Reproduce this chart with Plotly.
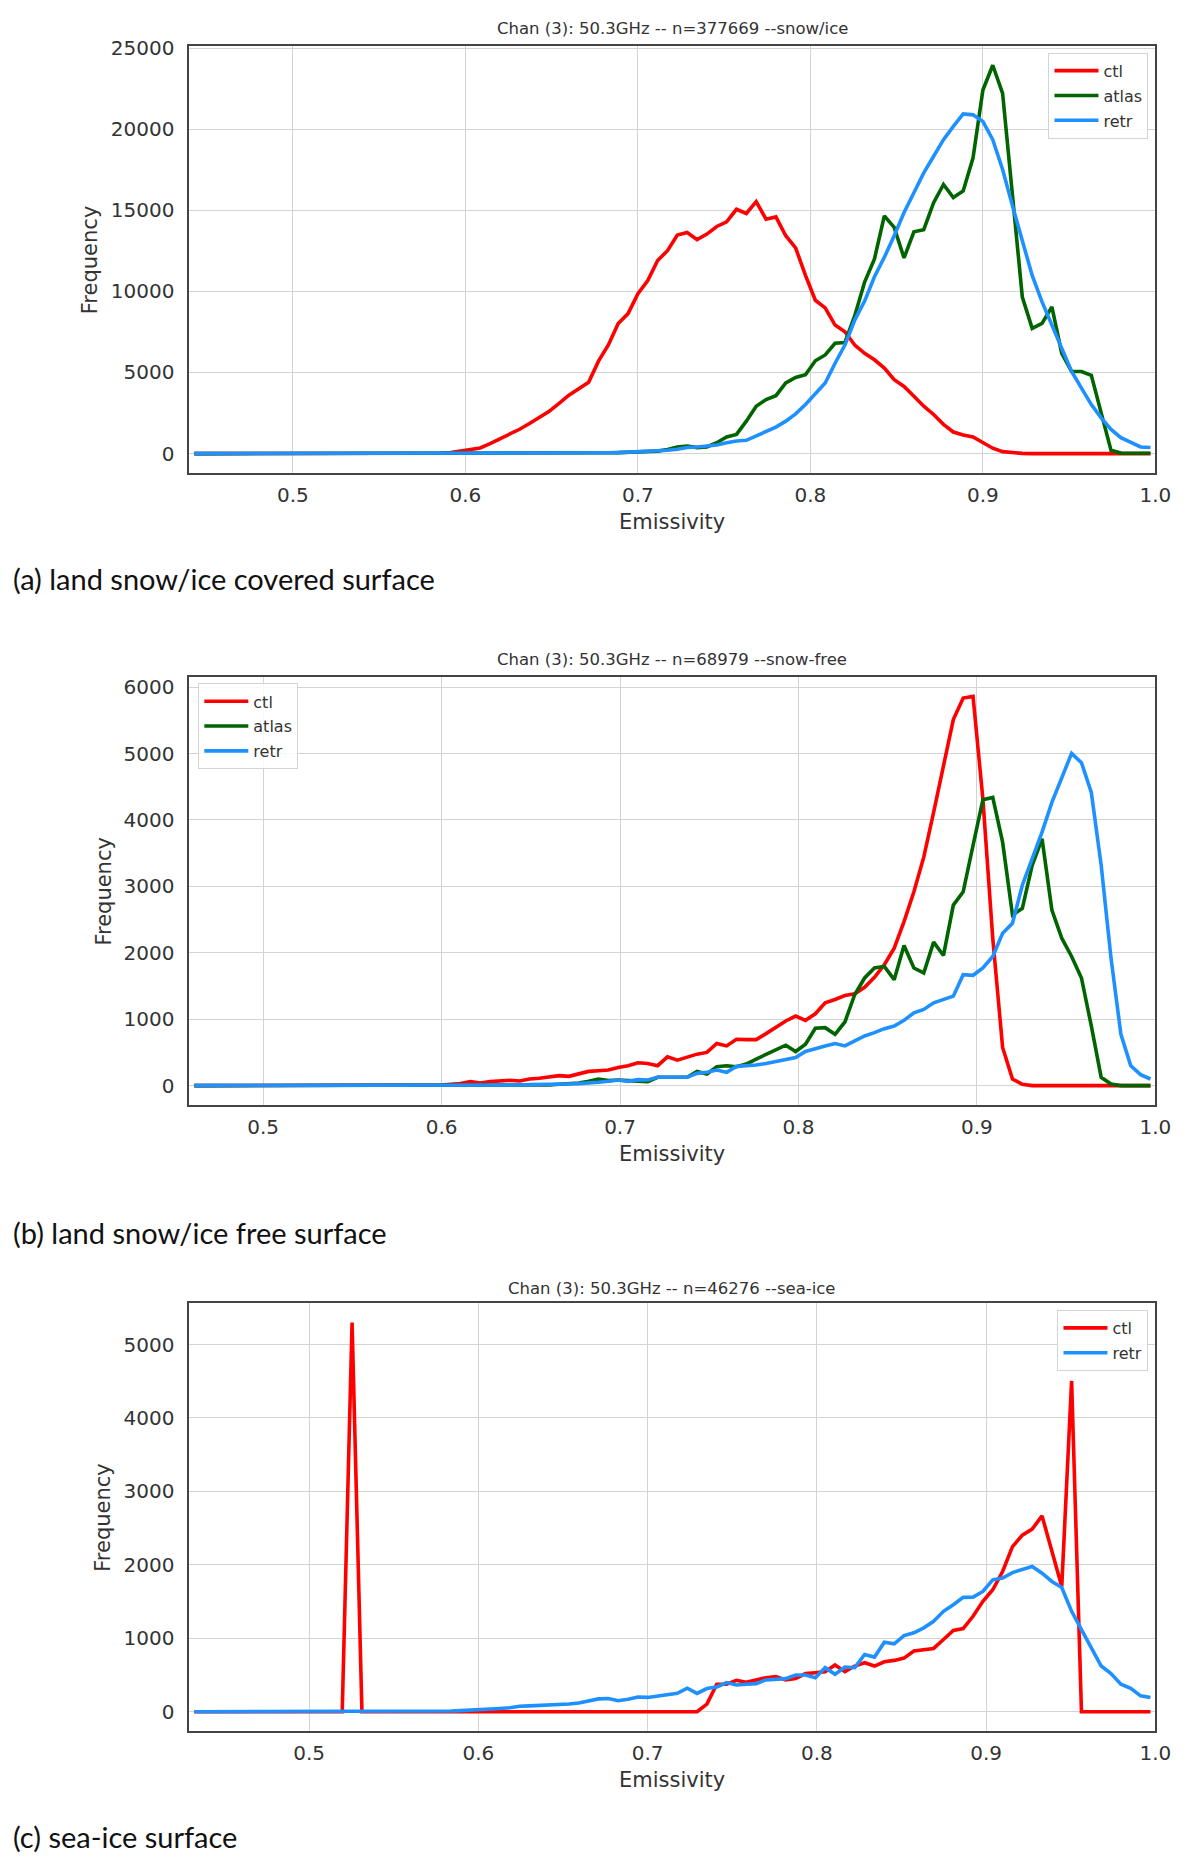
import numpy as np
import plotly.graph_objects as go

W, H = 1200, 1862
N_BINS = 98

# left edge of the histogram bins in each panel (right edge is 1.0)
EDGE_LO = [0.44, 0.4587, 0.4293]

TITLES = [
    "Chan (3): 50.3GHz -- n=377669 --snow/ice",
    "Chan (3): 50.3GHz -- n=68979 --snow-free",
    "Chan (3): 50.3GHz -- n=46276 --sea-ice",
]
CAPTIONS = [
    "(a) land snow/ice covered surface",
    "(b) land snow/ice free surface",
    "(c) sea-ice surface",
]
X_TICKS = [0.5, 0.6, 0.7, 0.8, 0.9, 1.0]
X_TICK_LABELS = ["0.5", "0.6", "0.7", "0.8", "0.9", "1.0"]
Y_TICKS = [
    [0, 5000, 10000, 15000, 20000, 25000],
    [0, 1000, 2000, 3000, 4000, 5000, 6000],
    [0, 1000, 2000, 3000, 4000, 5000],
]

# (a) snow/ice
ctl_snow = (
    [0] * 20
    + [5, 5, 10, 10, 15, 25, 60, 150, 280, 350, 620, 900, 1200, 1500, 1850, 2200, 2600, 3100, 3600, 4000]
    + [4400, 5700, 6700, 8020, 8630, 9860, 10670, 11900, 12510, 13470, 13630, 13190, 13530, 14000,
       14290, 15060, 14800, 15530, 14450, 14590]
    + [13430, 12680, 10980, 9450, 8980, 7920, 7510, 6690, 6180, 5780, 5270, 4550, 4140, 3530, 2920,
       2410, 1800, 1330, 1140, 1020]
    + [670, 330, 120, 40, 10]
    + [0] * 13
)
atlas_snow = (
    [0] * 35
    + [10, 10, 20, 20, 30, 30, 40, 50, 60, 80]
    + [100, 120, 150, 250, 410, 470, 370, 410, 670, 1020, 1180, 2000, 2920, 3330, 3570, 4350, 4690,
       4860, 5720, 6080]
    + [6800, 6840, 8500, 10570, 12000, 14650, 13940, 12060, 13670, 13800, 15470, 16590, 15780, 16190,
       18230, 22410, 23940, 22200, 16000, 9650]
    + [7720, 8020, 9040, 6180, 5060, 5060, 4820, 2500, 200, 30, 20, 20, 20]
)
retr_snow = (
    [0] * 30
    + [5, 10, 10, 15, 20, 20, 25, 30, 30, 35, 40, 45, 50, 60, 80, 100, 130, 170, 210, 265]
    + [370, 410, 470, 530, 670, 780, 820, 1080, 1330, 1630, 2000, 2450, 3020, 3670, 4350, 5570, 6690,
       8230, 9400, 10900]
    + [12100, 13430, 14860, 16080, 17300, 18330, 19350, 20170, 20940, 20880, 20470, 19350, 17510,
       15270, 13020, 10980, 9350, 7920, 6390, 5060]
    + [4040, 3020, 2200, 1490, 980, 670, 410, 370]
)

# (b) snow-free
ctl_free = (
    [0] * 25
    + [10, 20, 30, 60, 40, 60, 70, 80, 70, 100, 110, 130, 150, 140, 180, 214, 224, 234, 274, 300]
    + [344, 334, 300, 434, 384, 424, 474, 500, 634, 598, 698, 693, 693, 783, 873, 973, 1047, 983,
       1082, 1247]
    + [1297, 1357, 1382, 1481, 1630, 1820, 2070, 2470, 2920, 3440, 4115, 4813, 5512, 5836, 5861,
       4315, 2220, 574, 100, 20]
    + [0] * 13
)
atlas_free = (
    [0] * 36
    + [10, 20, 30, 40, 65, 100, 75, 85, 75, 65, 60, 125, 125, 125, 125, 214, 175, 284, 300, 284]
    + [324, 400, 470, 550, 608, 514, 624, 863, 873, 773, 958, 1372, 1621, 1771, 1796, 1596, 2110,
       1771, 1696, 2160]
    + [1960, 2718, 2918, 3616, 4305, 4340, 3666, 2569, 2669, 3317, 3716, 2644, 2220, 1945, 1621,
       898, 125, 25]
    + [0] * 4
)
retr_free = (
    [0] * 31
    + [5, 10, 10, 15, 15, 20, 20, 25, 30, 35, 50, 65, 85, 65, 90, 85, 125, 125, 125, 125]
    + [185, 200, 234, 200, 290, 300, 310, 334, 364, 400, 424, 514, 549, 598, 634, 598, 673, 748,
       798, 858]
    + [898, 983, 1097, 1147, 1247, 1297, 1347, 1671, 1661, 1771, 1945, 2295, 2444, 3018, 3417,
       3816, 4265, 4639, 5003, 4863]
    + [4414, 3317, 1920, 773, 299, 165, 100]
)

# (c) sea-ice
ctl_sea = (
    [0] * 16
    + [5300]
    + [0] * 35
    + [104, 374, 374, 428, 400, 433, 464, 478, 433, 451, 519, 532, 546, 636, 546, 622, 667, 622,
       681, 699]
    + [730, 826, 848, 862, 984, 1106, 1133, 1300, 1503, 1661, 1909, 2247, 2405, 2487, 2667, 2200,
       1706, 4504]
    + [0] * 8
)
retr_sea = (
    [0] * 25
    + [5, 10, 15, 20, 30, 40, 45, 55, 75, 80, 85, 90, 95, 105, 120, 150, 175, 180, 150, 170]
    + [200, 195, 215, 230, 250, 320, 250, 316, 338, 397, 365, 374, 383, 433, 437, 451, 500, 500,
       464, 600]
    + [510, 609, 600, 780, 744, 947, 925, 1037, 1074, 1142, 1232, 1367, 1458, 1557, 1561, 1638,
       1796, 1819, 1895, 1932]
    + [1977, 1886, 1774, 1692, 1367, 1119, 871, 623, 519, 375, 320, 217, 194]
)

PANELS = [
    [("ctl", ctl_snow), ("atlas", atlas_snow), ("retr", retr_snow)],
    [("ctl", ctl_free), ("atlas", atlas_free), ("retr", retr_free)],
    [("ctl", ctl_sea), ("retr", retr_sea)],
]
COLORS = {"ctl": "#ff0000", "atlas": "#006400", "retr": "#1e90ff"}

# layout in pixels (top, bottom of each plot box)
PLOT_LEFT, PLOT_RIGHT = 192, 1171
PLOT_TB = [(36, 465.5), (670.5, 1101), (1300, 1730.5)]
TITLE_Y = [19, 653, 1285]
TICKLAB_FONT = dict(family="DejaVu Sans", size=20, color="#333333")
TEXT = "#333333"


def py(px):
    return 1 - px / H


def bin_centers(lo):
    edges = np.linspace(lo, 1.0, N_BINS + 1)
    return (edges[:-1] + edges[1:]) / 2


fig = go.Figure()
layout = {}

for k, panel in enumerate(PANELS):
    n = "" if k == 0 else str(k + 1)
    x = bin_centers(EDGE_LO[k])
    leg = "legend" + n
    for name, vals in panel:
        fig.add_trace(
            go.Scatter(
                x=x,
                y=vals,
                name=name,
                mode="lines",
                line=dict(color=COLORS[name], width=3.6),
                xaxis="x" + n,
                yaxis="y" + n,
                legend=leg,
                legendgroup=f"{k}{name}",
                hoverinfo="skip",
            )
        )

    ymax = max(max(v) for _, v in panel)
    top, bottom = PLOT_TB[k]
    axis_common = dict(
        showline=True,
        mirror=True,
        linecolor="#444444",
        linewidth=2,
        showgrid=True,
        gridcolor="#d3d3d3",
        gridwidth=1.3,
        zeroline=False,
        ticks="",
        tickfont=TICKLAB_FONT,
    )
    layout["xaxis" + n] = dict(
        axis_common,
        domain=[PLOT_LEFT / W, PLOT_RIGHT / W],
        range=[EDGE_LO[k], 1.0],
        tickvals=X_TICKS,
        ticktext=X_TICK_LABELS,
        anchor="y" + n,
        ticklabelstandoff=3,
    )
    layout["yaxis" + n] = dict(
        axis_common,
        domain=[py(bottom), py(top)],
        range=[-0.05 * ymax, 1.05 * ymax],
        tickvals=Y_TICKS[k],
        ticktext=[str(v) for v in Y_TICKS[k]],
        anchor="x" + n,
        ticklabelstandoff=9,
    )

    if k == 1:
        lx, lxa = 201 / W, "left"
        ly = py(677)
    else:
        lx, lxa = 1164 / W, "right"
        ly = py(top + 7)
    layout[leg] = dict(
        x=lx,
        y=ly,
        xanchor=lxa,
        yanchor="top",
        bgcolor="rgba(255,255,255,0.85)",
        bordercolor="#d4d4d4",
        borderwidth=1,
        font=dict(family="DejaVu Sans", size=16, color=TEXT),
        itemwidth=44,
        tracegroupgap=1,
    )

    xc = (PLOT_LEFT + PLOT_RIGHT) / 2 / W
    fig.add_annotation(
        x=xc, y=py(TITLE_Y[k]), xref="paper", yref="paper",
        text=TITLES[k], showarrow=False, yanchor="middle",
        font=dict(family="DejaVu Sans", size=16.5, color=TEXT),
    )
    fig.add_annotation(
        x=xc, y=py(bottom + 49), xref="paper", yref="paper",
        text="Emissivity", showarrow=False, yanchor="middle",
        font=dict(family="DejaVu Sans", size=21, color=TEXT),
    )
    fig.add_annotation(
        x=(92 if k == 0 else 105) / W, y=py((top + bottom) / 2),
        xref="paper", yref="paper",
        text="Frequency", showarrow=False, textangle=-90,
        xanchor="center", yanchor="middle",
        font=dict(family="DejaVu Sans", size=21, color=TEXT),
    )
    fig.add_annotation(
        x=11 / W, y=py([572, 1229, 1836][k]), xref="paper", yref="paper",
        text=CAPTIONS[k], showarrow=False, xanchor="left", yanchor="middle",
        font=dict(family="Lato", size=29, color="#111111"),
    )

fig.update_layout(
    width=W,
    height=H,
    margin=dict(l=0, r=0, t=0, b=0),
    paper_bgcolor="white",
    plot_bgcolor="white",
    showlegend=True,
    **layout,
)

fig.write_html(
    "out.html",
    config={"displayModeBar": False},
    post_script="document.body.style.margin='0';",
)
